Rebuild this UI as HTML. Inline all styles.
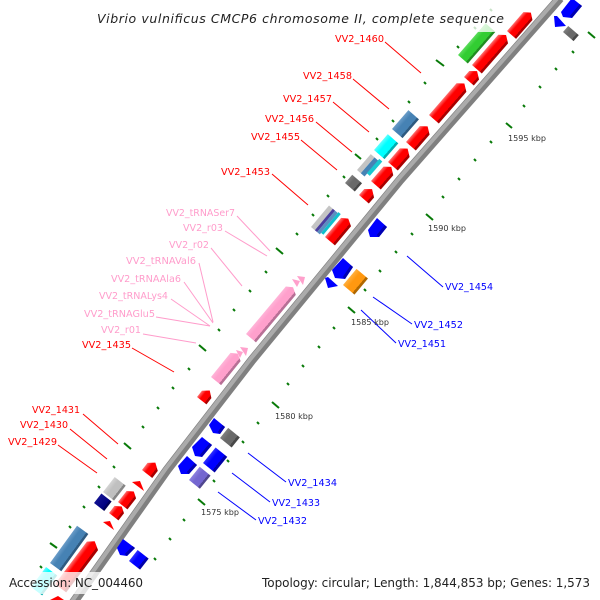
<!DOCTYPE html>
<html><head><meta charset="utf-8"><title>Vibrio vulnificus CMCP6 chromosome II</title>
<style>
html,body{margin:0;padding:0;background:#fff;width:600px;height:600px;overflow:hidden}
svg{display:block}
text{font-family:"DejaVu Sans","Liberation Sans",sans-serif;font-size:10px}
.r{fill:#f00}.b{fill:#00f}.p{fill:#ff9ccb}
.k{fill:#333;font-size:8px}
.lr{stroke:#f00}.lb{stroke:#00f}.lp{stroke:#ff9ccb}
line{stroke-width:1}
.t line{stroke:#087a08;stroke-width:2}
</style></head><body>
<svg width="600" height="600" viewBox="0 0 600 600" xmlns="http://www.w3.org/2000/svg">
<defs>
<linearGradient id="gr" x1="0" y1="0" x2="0" y2="1"><stop offset="0" stop-color="#ff7070"/><stop offset=".32" stop-color="#f00"/><stop offset=".8" stop-color="#f00"/><stop offset=".8" stop-color="#a80000"/><stop offset="1" stop-color="#a80000"/></linearGradient>
<linearGradient id="gb" x1="0" y1="0" x2="0" y2="1"><stop offset="0" stop-color="#3030ff"/><stop offset=".32" stop-color="#00f"/><stop offset=".8" stop-color="#00f"/><stop offset=".8" stop-color="#0000a8"/><stop offset="1" stop-color="#0000a8"/></linearGradient>
<linearGradient id="gp" x1="0" y1="0" x2="0" y2="1"><stop offset="0" stop-color="#ffb4d8"/><stop offset=".35" stop-color="#ffa0cc"/><stop offset=".8" stop-color="#ffa0cc"/><stop offset=".8" stop-color="#b87096"/><stop offset="1" stop-color="#b87096"/></linearGradient>
<linearGradient id="gs" x1="0" y1="0" x2="0" y2="1"><stop offset="0" stop-color="#6a9cc8"/><stop offset=".35" stop-color="#4682b4"/><stop offset=".82" stop-color="#4682b4"/><stop offset=".82" stop-color="#2e5a80"/><stop offset="1" stop-color="#2e5a80"/></linearGradient>
<linearGradient id="gc" x1="0" y1="0" x2="0" y2="1"><stop offset="0" stop-color="#60ffff"/><stop offset=".35" stop-color="#0ff"/><stop offset=".82" stop-color="#0ff"/><stop offset=".82" stop-color="#00b0b0"/><stop offset="1" stop-color="#00b0b0"/></linearGradient>
<linearGradient id="gl" x1="0" y1="0" x2="0" y2="1"><stop offset="0" stop-color="#d4d4d4"/><stop offset=".35" stop-color="#c0c0c0"/><stop offset=".82" stop-color="#c0c0c0"/><stop offset=".82" stop-color="#868686"/><stop offset="1" stop-color="#868686"/></linearGradient>
<linearGradient id="gd" x1="0" y1="0" x2="0" y2="1"><stop offset="0" stop-color="#808080"/><stop offset=".35" stop-color="#696969"/><stop offset=".82" stop-color="#696969"/><stop offset=".82" stop-color="#484848"/><stop offset="1" stop-color="#484848"/></linearGradient>
<linearGradient id="gg" x1="0" y1="0" x2="0" y2="1"><stop offset="0" stop-color="#5cdc5c"/><stop offset=".35" stop-color="#32cd32"/><stop offset=".82" stop-color="#32cd32"/><stop offset=".82" stop-color="#228c22"/><stop offset="1" stop-color="#228c22"/></linearGradient>
<linearGradient id="go" x1="0" y1="0" x2="0" y2="1"><stop offset="0" stop-color="#ffb040"/><stop offset=".35" stop-color="#ff9810"/><stop offset=".82" stop-color="#ff9810"/><stop offset=".82" stop-color="#b06800"/><stop offset="1" stop-color="#b06800"/></linearGradient>
<linearGradient id="gv" x1="0" y1="0" x2="0" y2="1"><stop offset="0" stop-color="#8c80e0"/><stop offset=".35" stop-color="#7466d0"/><stop offset=".82" stop-color="#7466d0"/><stop offset=".82" stop-color="#50468f"/><stop offset="1" stop-color="#50468f"/></linearGradient>
<linearGradient id="gn" x1="0" y1="0" x2="0" y2="1"><stop offset="0" stop-color="#101090"/><stop offset=".82" stop-color="#000080"/><stop offset=".82" stop-color="#000058"/><stop offset="1" stop-color="#000058"/></linearGradient>
</defs>

<!-- backbone -->
<polyline points="560,-2 400,180 252,360 167,470 73,603" fill="none" stroke="#808080" stroke-width="9" stroke-linejoin="round"/>
<polyline points="558.6,-3.2 398.6,178.8 250.6,358.8 165.6,468.8 71.6,601.8" fill="none" stroke="#ababab" stroke-width="4" stroke-linejoin="round"/>

<!-- forward genes -->
<polygon fill="url(#gr)" transform="translate(507,31) rotate(-49)" points="0,0 25,0 29.5,6 25,12 0,12"/>
<polygon fill="url(#gr)" transform="translate(472,65) rotate(-49)" points="0,0 40,0 45,6 40,13 0,13"/>
<polygon fill="url(#gr)" transform="translate(464,77) rotate(-49)" points="0,0 8,0 13,6 8,13 0,13"/>
<polygon fill="url(#gr)" transform="translate(429,115) rotate(-49)" points="0,0 42,0 47,6 42,13 0,13"/>
<polygon fill="url(#gg)" transform="translate(458,55) rotate(-49)" points="0,0 42,0 42,13 0,13"/>
<polygon fill="url(#gs)" transform="translate(392,129) rotate(-49)" points="0,0 25,0 25,14 0,14"/>
<polygon fill="url(#gr)" transform="translate(406,142) rotate(-49)" points="0,0 21,0 26,6 21,13 0,13"/>
<polygon fill="url(#gc)" transform="translate(374,150) rotate(-49)" points="0,0 21,0 21,14 0,14"/>
<polygon fill="url(#gr)" transform="translate(388,162) rotate(-49)" points="0,0 18,0 23,6 18,13 0,13"/>
<g transform="translate(357,170) rotate(-49)">
<rect x="0" y="0" width="21" height="5" fill="#c4c4c4"/>
<rect x="0" y="5" width="21" height="5" fill="#4682b4"/>
<rect x="4" y="9.5" width="19" height="4" fill="#18c8d0"/>
</g>
<polygon fill="url(#gr)" transform="translate(371,181) rotate(-49)" points="0,0 19,0 24,6 19,13 0,13"/>
<polygon fill="url(#gd)" transform="translate(345,183) rotate(-49)" points="0,0 11,0 11,13 0,13"/>
<polygon fill="url(#gr)" transform="translate(359,195) rotate(-49)" points="0,0 8,0 13,6 8,13 0,13"/>
<g transform="translate(311,227) rotate(-50)">
<rect x="0" y="0" width="28" height="5" fill="#c4c4c4"/>
<rect x="0" y="5" width="28" height="3" fill="#4a3f9f"/>
<rect x="0" y="8" width="28" height="3.5" fill="#5a8fc0"/>
<rect x="2" y="11.5" width="27" height="3" fill="#10c0cc"/>
</g>
<polygon fill="url(#gr)" transform="translate(325,237) rotate(-50)" points="0,0 25,0 29,6 25,13 0,13"/>
<polygon fill="url(#go)" transform="translate(343,285) rotate(-50)" points="0,0 21,0 21,15 0,15"/>
<polygon fill="url(#gp)" transform="translate(246,334) rotate(-50)" points="0,0 62,0 66,6 62,13 0,13"/>
<polygon fill="url(#gp)" transform="translate(211,377) rotate(-51)" points="0,0 31,0 35,6 31,13 0,13"/>
<g fill="#ffa0cc">
<polygon points="292,279 300,281 297,287"/>
<polygon points="297,276 305,277 303,285"/>
<polygon points="236,350 243,352 240,358"/>
<polygon points="240,347 248,348 246,356"/>
</g>
<polygon fill="url(#gr)" transform="translate(197,397) rotate(-52)" points="0,0 8,0 13,6 8,12 0,12"/>
<polygon fill="url(#gr)" transform="translate(142,470) rotate(-52)" points="0,0 9,0 14,6 9,13 0,13"/>
<polygon fill="url(#gd)" transform="translate(220,438) rotate(-51)" points="0,0 13,0 13,15 0,15"/>
<polygon fill="url(#gb)" transform="translate(203,463) rotate(-51)" points="0,0 20,0 20,15 0,15"/>
<polygon fill="url(#gv)" transform="translate(189,480) rotate(-51)" points="0,0 17,0 17,14 0,14"/>
<polygon fill="url(#gl)" transform="translate(103,492) rotate(-52)" points="0,0 19,0 19,14 0,14"/>
<polygon fill="url(#gn)" transform="translate(94,503) rotate(-52)" points="0,0 12,0 12,13 0,13"/>
<polygon fill="url(#gr)" transform="translate(118,502) rotate(-52)" points="0,0 14,0 18,6 14,12 0,12"/>
<polygon fill="url(#gr)" transform="translate(109,513) rotate(-52)" points="0,0 9,0 13,6 9,12 0,12"/>
<polygon fill="url(#gs)" transform="translate(50,563) rotate(-54)" points="0,0 46,0 46,14 0,14"/>
<polygon fill="url(#gr)" transform="translate(55,584) rotate(-53)" points="0,0 53,0 58,6 53,14 0,14"/>
<polygon fill="url(#gc)" transform="translate(31,587) rotate(-53)" points="0,0 25,0 25,14 0,14"/>
<polygon fill="url(#gb)" transform="translate(129,561) rotate(-52)" points="0,0 14,0 14,14 0,14"/>
<polygon fill="url(#gd)" transform="translate(563,32) rotate(-49)" points="0,0 8,0 8,14 0,14"/>
<polygon fill="#f00" points="132,482 140,481 144,491"/>
<polygon fill="#f00" points="103,522 110,521 114,530"/>
<polygon fill="#f00" points="50,600 58,596 64,600"/>

<!-- reverse genes -->
<g fill="#00f">
<polygon points="368,230 377,218 387,227 379,237 370,237"/>
<polygon points="332,270 343,258 353,267 345,279 335,278"/>
<polygon points="209,425 214,418 225,427 220,434 213,433"/>
<polygon points="192,447 202,437 212,445 202,457 195,456"/>
<polygon points="178,466 187,456 197,465 189,474 181,474"/>
<polygon points="117,548 123,539 135,548 127,556 120,555"/>
<polygon points="561,12 572,-2 582,6 572,18 563,17"/>
<polygon points="325,278 328,277 338,286 328,288"/>
<polygon points="554,16 557,16 566,26 555,27"/>
</g>
<g fill="#0000b0">
<polygon points="387,227 379,237 376.7,235.1 384.7,225.1"/>
<polygon points="353,267 345,279 342.7,277.1 350.7,265.1"/>
<polygon points="225,427 220,434 217.7,432.1 222.7,425.1"/>
<polygon points="212,445 202,457 199.7,455.1 209.7,443.1"/>
<polygon points="197,465 189,474 186.7,472.1 194.7,463.1"/>
<polygon points="135,548 127,556 124.7,554.1 132.7,546.1"/>
<polygon points="582,6 572,18 569.7,16.1 579.7,4.1"/>
</g>

<!-- ticks -->
<g class="t">
<line x1="490" y1="9" x2="492" y2="11"/><line x1="474" y1="27" x2="476" y2="29"/><line x1="457" y1="46" x2="459" y2="48"/>
<line x1="436" y1="60" x2="444" y2="66"/>
<line x1="424" y1="82" x2="426" y2="84"/><line x1="408" y1="101" x2="410" y2="103"/><line x1="392" y1="120" x2="394" y2="122"/><line x1="376" y1="138" x2="378" y2="140"/>
<line x1="355" y1="154" x2="361" y2="159"/>
<line x1="343" y1="176" x2="345" y2="178"/><line x1="327" y1="195" x2="329" y2="197"/><line x1="312" y1="214" x2="314" y2="216"/><line x1="296" y1="233" x2="298" y2="235"/>
<line x1="276" y1="248" x2="283" y2="254"/>
<line x1="265" y1="271" x2="267" y2="273"/><line x1="249" y1="290" x2="251" y2="292"/><line x1="233" y1="309" x2="235" y2="311"/><line x1="218" y1="329" x2="220" y2="331"/>
<line x1="199" y1="345" x2="206" y2="351"/>
<line x1="188" y1="368" x2="190" y2="370"/><line x1="172" y1="387" x2="174" y2="389"/><line x1="157" y1="407" x2="159" y2="409"/><line x1="142" y1="426" x2="144" y2="428"/>
<line x1="124" y1="443" x2="131" y2="449"/>
<line x1="113" y1="466" x2="115" y2="468"/><line x1="98" y1="486" x2="100" y2="488"/><line x1="83" y1="506" x2="85" y2="508"/><line x1="69" y1="526" x2="71" y2="528"/>
<line x1="50" y1="543" x2="57" y2="548"/>
<line x1="40" y1="566" x2="42" y2="568"/>
<line x1="588" y1="32" x2="595" y2="38"/>
<line x1="572" y1="51" x2="574" y2="53"/><line x1="555" y1="68" x2="557" y2="70"/><line x1="539" y1="86" x2="541" y2="88"/><line x1="523" y1="105" x2="525" y2="107"/>
<line x1="506" y1="123" x2="512" y2="128"/>
<line x1="490" y1="141" x2="492" y2="143"/><line x1="474" y1="159" x2="476" y2="161"/><line x1="458" y1="178" x2="460" y2="180"/><line x1="442" y1="196" x2="444" y2="198"/>
<line x1="426" y1="214" x2="433" y2="220"/>
<line x1="411" y1="233" x2="413" y2="235"/><line x1="395" y1="251" x2="397" y2="253"/><line x1="379" y1="270" x2="381" y2="272"/><line x1="364" y1="289" x2="366" y2="291"/>
<line x1="348" y1="307" x2="355" y2="313"/>
<line x1="333" y1="327" x2="335" y2="329"/><line x1="318" y1="346" x2="320" y2="348"/><line x1="302" y1="365" x2="304" y2="367"/><line x1="287" y1="383" x2="289" y2="385"/>
<line x1="272" y1="402" x2="279" y2="408"/>
<line x1="257" y1="422" x2="259" y2="424"/><line x1="242" y1="441" x2="244" y2="443"/><line x1="227" y1="460" x2="229" y2="462"/><line x1="213" y1="480" x2="215" y2="482"/>
<line x1="198" y1="499" x2="205" y2="505"/>
<line x1="183" y1="519" x2="185" y2="521"/><line x1="169" y1="538" x2="171" y2="540"/><line x1="154" y1="558" x2="156" y2="560"/>
</g>

<!-- leader lines -->
<g class="lr">
<line x1="385" y1="42" x2="421" y2="73"/><line x1="353" y1="79" x2="389" y2="109"/><line x1="333" y1="102" x2="369" y2="132"/><line x1="316" y1="122" x2="352" y2="152"/><line x1="301" y1="140" x2="337" y2="170"/><line x1="272" y1="174" x2="308" y2="205"/>
<line x1="132" y1="348" x2="174" y2="372"/><line x1="83" y1="414" x2="118" y2="444"/><line x1="70" y1="429" x2="107" y2="459"/><line x1="58" y1="445" x2="97" y2="473"/>
</g>
<g class="lp">
<line x1="237" y1="216" x2="270" y2="251"/><line x1="225" y1="231" x2="267" y2="256"/><line x1="211" y1="248" x2="242" y2="286"/><line x1="199" y1="263" x2="213" y2="322"/><line x1="184" y1="282" x2="213" y2="323"/><line x1="171" y1="299" x2="210" y2="326"/><line x1="156" y1="317" x2="210" y2="326"/><line x1="143" y1="334" x2="196" y2="343"/>
</g>
<g class="lb">
<line x1="407" y1="256" x2="443" y2="287"/><line x1="373" y1="297" x2="412" y2="324"/><line x1="361" y1="310" x2="396" y2="343"/><line x1="248" y1="453" x2="286" y2="482"/><line x1="232" y1="473" x2="270" y2="502"/><line x1="218" y1="492" x2="256" y2="520"/>
</g>

<!-- overlay boxes -->
<rect x="90" y="0" width="415" height="32" fill="#fff" fill-opacity=".78"/>
<rect x="0" y="572" width="150" height="22" fill="#fff" fill-opacity=".78"/>
<rect x="256" y="572" width="344" height="22" fill="#fff" fill-opacity=".78"/>

<!-- labels -->
<g class="r">
<text x="335" y="42" textLength="49" lengthAdjust="spacingAndGlyphs">VV2_1460</text>
<text x="303" y="79" textLength="49" lengthAdjust="spacingAndGlyphs">VV2_1458</text>
<text x="283" y="102" textLength="49" lengthAdjust="spacingAndGlyphs">VV2_1457</text>
<text x="265" y="122" textLength="49" lengthAdjust="spacingAndGlyphs">VV2_1456</text>
<text x="251" y="140" textLength="49" lengthAdjust="spacingAndGlyphs">VV2_1455</text>
<text x="221" y="175" textLength="49" lengthAdjust="spacingAndGlyphs">VV2_1453</text>
<text x="82" y="348" textLength="49" lengthAdjust="spacingAndGlyphs">VV2_1435</text>
<text x="32" y="413" textLength="48" lengthAdjust="spacingAndGlyphs">VV2_1431</text>
<text x="20" y="428" textLength="48" lengthAdjust="spacingAndGlyphs">VV2_1430</text>
<text x="8" y="445" textLength="49" lengthAdjust="spacingAndGlyphs">VV2_1429</text>
</g>
<g class="p">
<text x="166" y="216" textLength="69" lengthAdjust="spacingAndGlyphs">VV2_tRNASer7</text>
<text x="183" y="231" textLength="40" lengthAdjust="spacingAndGlyphs">VV2_r03</text>
<text x="169" y="248" textLength="40" lengthAdjust="spacingAndGlyphs">VV2_r02</text>
<text x="126" y="264" textLength="70" lengthAdjust="spacingAndGlyphs">VV2_tRNAVal6</text>
<text x="111" y="282" textLength="70" lengthAdjust="spacingAndGlyphs">VV2_tRNAAla6</text>
<text x="99" y="299" textLength="69" lengthAdjust="spacingAndGlyphs">VV2_tRNALys4</text>
<text x="84" y="317" textLength="71" lengthAdjust="spacingAndGlyphs">VV2_tRNAGlu5</text>
<text x="101" y="333" textLength="40" lengthAdjust="spacingAndGlyphs">VV2_r01</text>
</g>
<g class="b">
<text x="445" y="290" textLength="48" lengthAdjust="spacingAndGlyphs">VV2_1454</text>
<text x="414" y="328" textLength="49" lengthAdjust="spacingAndGlyphs">VV2_1452</text>
<text x="398" y="347" textLength="48" lengthAdjust="spacingAndGlyphs">VV2_1451</text>
<text x="288" y="486" textLength="49" lengthAdjust="spacingAndGlyphs">VV2_1434</text>
<text x="272" y="506" textLength="48" lengthAdjust="spacingAndGlyphs">VV2_1433</text>
<text x="258" y="524" textLength="49" lengthAdjust="spacingAndGlyphs">VV2_1432</text>
</g>
<text class="k" x="508" y="141" textLength="38" lengthAdjust="spacingAndGlyphs">1595 kbp</text>
<text class="k" x="428" y="231" textLength="38" lengthAdjust="spacingAndGlyphs">1590 kbp</text>
<text class="k" x="351" y="325" textLength="38" lengthAdjust="spacingAndGlyphs">1585 kbp</text>
<text class="k" x="275" y="419" textLength="38" lengthAdjust="spacingAndGlyphs">1580 kbp</text>
<text class="k" x="201" y="515" textLength="38" lengthAdjust="spacingAndGlyphs">1575 kbp</text>

<text x="97" y="23" fill="#222" font-style="italic" style="font-size:12.5px" textLength="407" lengthAdjust="spacing">Vibrio vulnificus CMCP6 chromosome II, complete sequence</text>
<text x="9" y="587" fill="#222" style="font-size:12px" textLength="134" lengthAdjust="spacing">Accession: NC_004460</text>
<text x="262" y="587" fill="#222" style="font-size:12px" textLength="328" lengthAdjust="spacing">Topology: circular; Length: 1,844,853 bp; Genes: 1,573</text>
</svg>
</body></html>
